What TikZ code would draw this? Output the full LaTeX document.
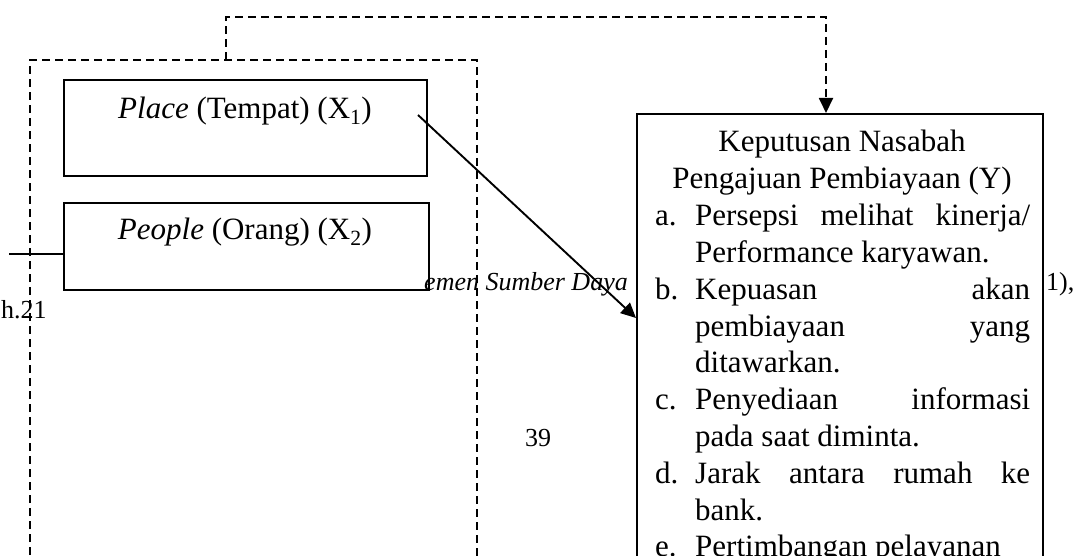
\documentclass[tikz,border=0pt]{standalone}
\usepackage{fontspec}
\setmainfont{Liberation Serif}
\usetikzlibrary{arrows.meta}
\begin{document}
\begin{tikzpicture}[x=1pt,y=-1pt,
  box/.style={draw,line width=1.9pt,inner sep=0pt},
  dsh/.style={line width=1.9pt,dash pattern=on 8pt off 5pt},
  ln/.style={line width=1.9pt},
  body/.style={font=\fontsize{31}{36.8}\selectfont,inner sep=0pt,anchor=base west},
  ctr/.style={font=\fontsize{31}{36.8}\selectfont,inner sep=0pt,anchor=base},
  small/.style={font=\fontsize{26}{30}\selectfont,inner sep=0pt,anchor=base west},
  arr/.style={-{Triangle[width=14pt,length=15pt]}}]
\useasboundingbox (0,0) rectangle (1073,556);
% visible citation fragments
\node[small,font=\fontsize{26}{30}\selectfont\itshape] (cit1) at (424,290) {emen Sumber Daya};
\node[small] (cit2) at (1046,290) {1),};
\node[small] (cit3) at (1,318) {h.21};
\node[small,anchor=base] (pg) at (538,446) {39};
% dashed group box
\draw[dsh] (30,620) -- (30,60) -- (477,60) -- (477,620);
% boxes
\node[box,anchor=north west,minimum width=363pt,minimum height=96pt] (place) at (63,79) {};
\node[ctr] (placet) at (245,119) {\textit{Place} (Tempat) (X\textsubscript{1})};
\node[box,anchor=north west,minimum width=365pt,minimum height=87pt] (people) at (63,202) {};
\node[ctr] (peoplet) at (245,240) {\textit{People} (Orang) (X\textsubscript{2})};
\node[box,anchor=north west,minimum width=406pt,minimum height=520pt] (rbox) at (636,113) {};
% right box text
\node[ctr] (t1) at (842,152) {Keputusan Nasabah};
\node[ctr] (t2) at (842,188.8) {Pengajuan Pembiayaan (Y)};
\node[body] (la) at (655,225.6) {a.};
\node[body] (a1) at (695,225.6) {\makebox[335pt][s]{Persepsi melihat kinerja/}};
\node[body] (a2) at (695,262.4) {Performance karyawan.};
\node[body] (lb) at (655,299.2) {b.};
\node[body] (b1) at (695,299.2) {\makebox[335pt][s]{Kepuasan akan}};
\node[body] (b2) at (695,336) {\makebox[335pt][s]{pembiayaan yang}};
\node[body] (b3) at (695,372.8) {ditawarkan.};
\node[body] (lc) at (655,409.6) {c.};
\node[body] (c1) at (695,409.6) {\makebox[335pt][s]{Penyediaan informasi}};
\node[body] (c2) at (695,446.4) {pada saat diminta.};
\node[body] (ld) at (655,483.2) {d.};
\node[body] (d1) at (695,483.2) {\makebox[335pt][s]{Jarak antara rumah ke}};
\node[body] (d2) at (695,520) {bank.};
\node[body] (le) at (655,556.8) {e.};
\node[body] (e1) at (695,556.8) {Pertimbangan pelayanan};
% connectors
\coordinate (pstart) at (418,115);
\coordinate (ptip) at (636,318);
\draw[ln,arr] (pstart) -- (ptip);
\coordinate (lfree) at (9,254);
\draw[ln] (lfree) -- (people.west |- lfree);
\coordinate (dtop) at (226,60);
\coordinate (dtip) at (826,113);
\draw[dsh,arr] (dtop) -- (226,17) -- (826,17) -- (dtip);
\end{tikzpicture}
\end{document}
